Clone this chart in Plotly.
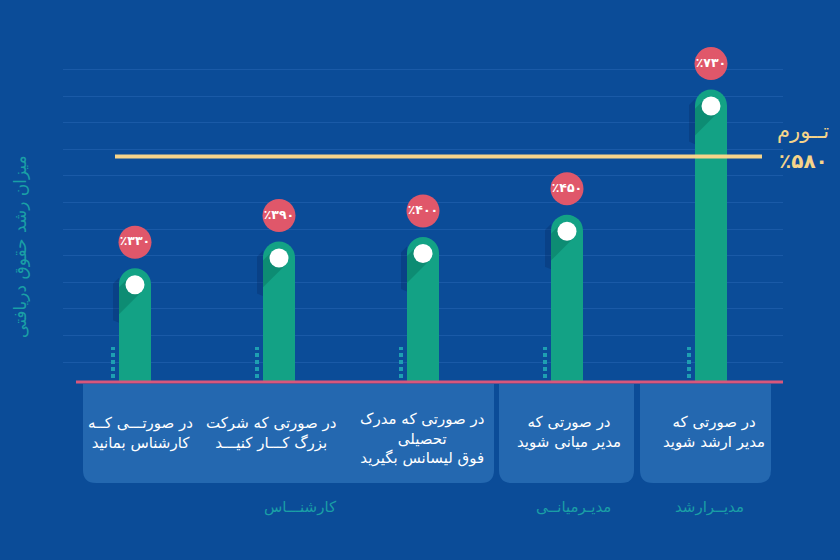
import plotly.graph_objects as go

# ---------------- data ----------------
categories = [
    "در صورتـــی کــه<br>کارشناس بمانید",
    "در صورتی که شرکت<br>بزرگ کـــار کنیـــد",
    "در صورتی که مدرک<br>تحصیلی<br>فوق لیسانس بگیرید",
    "در صورتی که<br>مدیر میانی شوید",
    "در صورتی که<br>مدیر ارشد شوید",
]
values = [330, 390, 400, 450, 730]
inflation = 580
inflation_title = "تــورم"
y_title = "میزان رشد حقوق دریافتی"
groups = ["کارشنـــاس", "مدیـرمیانــی", "مدیــرارشد"]

FA = str.maketrans("0123456789", "۰۱۲۳۴۵۶۷۸۹")
def fa_pct(v):
    return "٪" + str(v).translate(FA)

value_labels = [fa_pct(v) for v in values]

# ---------------- layout constants ----------------
W, H = 840, 560
BG = "#0b4c98"
BAR = "#13a285"
RED = "#e0576a"
TEAL = "#1a9fa6"
YEL = "#f6d48a"
FONT = "DejaVu Sans"

X_L, X_R = 63, 783          # plot area in pixels
Y_B, Y_T = 382, 60
Y0 = 75.4                    # value at baseline
PXU = 0.4467                 # pixels per unit
Y1 = Y0 + (Y_B - Y_T) / PXU
CAT_PX = (X_R - X_L) / 5
BAR_W = 32

def px(x):
    return x / W

def py(y):
    return 1 - y / H

x = list(range(len(values)))

def off(i, v, dx, dy):
    """point at pixel offset (dx right, dy down) from bar top centre"""
    return i + dx / CAT_PX, v - dy / PXU

fig = go.Figure()

fig.add_trace(go.Bar(
    x=x, y=values, width=BAR_W / CAT_PX, marker=dict(color=BAR, line=dict(width=0)),
    hoverinfo="skip",
))

# long shadows (cap shadow left of bar, dot shadow on bar)
cap_x, cap_y, dot_x, dot_y = [], [], [], []
for i, v in zip(x, values):
    for dx, dy in [(-16, 9.4), (-22, 15.4), (-22, 52), (-16, 54.6)]:
        a, b = off(i, v, dx, dy)
        cap_x.append(a); cap_y.append(b)
    cap_x.append(None); cap_y.append(None)
    for dx, dy in [(-6.7, 9.8), (-16, 19.1), (-16, 45.9), (6.7, 23.2)]:
        a, b = off(i, v, dx, dy)
        dot_x.append(a); dot_y.append(b)
    dot_x.append(None); dot_y.append(None)

fig.add_trace(go.Scatter(x=cap_x, y=cap_y, mode="lines", fill="toself",
                         fillcolor="rgba(4,30,85,0.25)", line=dict(width=0),
                         hoverinfo="skip"))
fig.add_trace(go.Scatter(x=dot_x, y=dot_y, mode="lines", fill="toself",
                         fillcolor="rgba(0,90,75,0.30)", line=dict(width=0),
                         hoverinfo="skip"))

# white dots at bar tops
fig.add_trace(go.Scatter(
    x=x, y=[v - 16.5 / PXU for v in values], mode="markers",
    marker=dict(color="white", size=19, line=dict(width=0)), hoverinfo="skip",
    cliponaxis=False,
))
# red value badges
fig.add_trace(go.Scatter(
    x=x, y=[v + 26 / PXU for v in values], mode="markers+text",
    marker=dict(color=RED, size=33, line=dict(width=0)),
    text=value_labels, textposition="middle center",
    textfont=dict(color="white", size=12.5, family=FONT, weight="bold"),
    hoverinfo="skip", cliponaxis=False,
))

shapes = []
# dotted accents left of each bar
for i in x:
    shapes.append(dict(type="line", xref="x", yref="paper",
                       x0=i - 22 / CAT_PX, x1=i - 22 / CAT_PX,
                       y0=py(378), y1=py(347),
                       line=dict(color="#1e9fb2", width=4, dash="4px,3px")))
# baseline
shapes.append(dict(type="line", xref="paper", yref="paper",
                   x0=px(76), x1=px(783), y0=py(382), y1=py(382),
                   line=dict(color="#d8577c", width=3)))
# inflation line
shapes.append(dict(type="line", xref="x", yref="y",
                   x0=(115 - X_L) / CAT_PX - 0.5, x1=(762 - X_L) / CAT_PX - 0.5,
                   y0=inflation, y1=inflation,
                   line=dict(color=YEL, width=4)))

def box(x0, x1, y0, y1, r):
    pts = [
        f"M {px(x0)},{py(y0)}",
        f"L {px(x1)},{py(y0)}",
        f"L {px(x1)},{py(y1 - r)}",
        f"Q {px(x1)},{py(y1)} {px(x1 - r)},{py(y1)}",
        f"L {px(x0 + r)},{py(y1)}",
        f"Q {px(x0)},{py(y1)} {px(x0)},{py(y1 - r)}",
        "Z",
    ]
    return dict(type="path", xref="paper", yref="paper", path=" ".join(pts),
                fillcolor="#2468b0", line=dict(width=0), layer="below")

for (a, b) in [(83, 494), (499, 634), (640, 771)]:
    shapes.append(box(a, b, 384, 483, 13))

def ann(text, x_px, y_px, font, **kw):
    return dict(text=text, xref="paper", yref="paper", x=px(x_px), y=py(y_px),
                xanchor="center", yanchor="middle", showarrow=False, font=font, **kw)

annotations = []
text_centers = [140, 271, 422, 569, 714]
text_y = [433, 433, 438, 432, 432]
for c, tx, ty in zip(categories, text_centers, text_y):
    annotations.append(ann(c, tx, ty, dict(color="white", size=15, family=FONT), align="center"))
for g, gx in zip(groups, [300, 573, 709]):
    annotations.append(ann(g, gx, 507, dict(color=TEAL, size=15, family=FONT)))
annotations.append(ann(inflation_title, 803, 131, dict(color=YEL, size=21, family=FONT)))
annotations.append(ann(fa_pct(inflation), 803, 161, dict(color=YEL, size=20, family=FONT, weight="bold")))
annotations.append(ann(y_title, 20, 247, dict(color=TEAL, size=17, family=FONT), textangle=-90))

fig.update_layout(
    width=W, height=H, margin=dict(l=0, r=0, t=0, b=0),
    paper_bgcolor=BG, plot_bgcolor=BG, showlegend=False,
    barcornerradius="50%",
    xaxis=dict(domain=[px(X_L), px(X_R)], range=[-0.5, 4.5], showgrid=False,
               zeroline=False, showticklabels=False, showline=False, fixedrange=True),
    yaxis=dict(domain=[py(Y_B), py(Y_T)], range=[Y0, Y1], showgrid=True,
               gridcolor="#1a5aa7", gridwidth=1, tick0=Y0 + 20 / PXU, dtick=26.6 / PXU,
               zeroline=False, showticklabels=False, showline=False, fixedrange=True),
    shapes=shapes, annotations=annotations,
)

fig.write_html("out.html", config={"displayModeBar": False},
               post_script="document.body.style.margin='0';")
